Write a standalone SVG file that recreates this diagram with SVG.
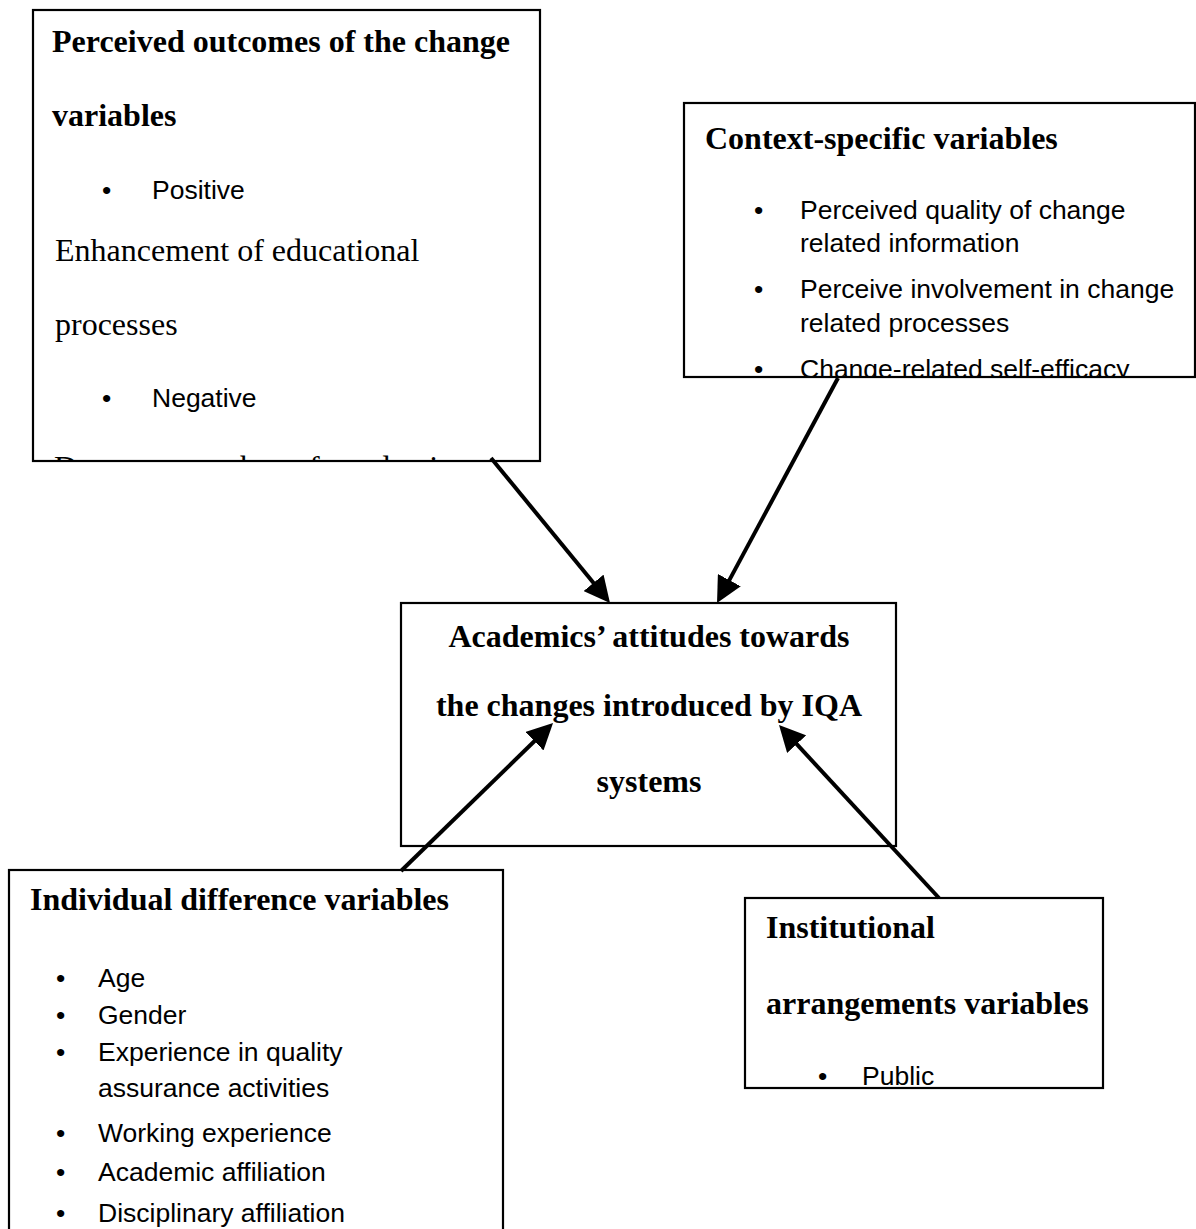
<svg xmlns="http://www.w3.org/2000/svg" width="1196" height="1229" viewBox="0 0 1196 1229">
<style>
.box{fill:#fff;stroke:#000;stroke-width:2.2}
.h{font-family:"Liberation Serif","Times New Roman",serif;font-weight:bold;font-size:32px;fill:#000}
.s{font-family:"Liberation Serif","Times New Roman",serif;font-size:32px;fill:#000}
.b{font-family:"Liberation Sans",Arial,sans-serif;font-size:26.5px;fill:#000}
.c{text-anchor:middle}
.arrow{stroke:#000;stroke-width:4;fill:none;marker-end:url(#ah)}
</style>
<defs>
<marker id="ah" markerUnits="userSpaceOnUse" markerWidth="26" markerHeight="26" refX="6" refY="13" orient="auto">
<path d="M0,0 L26,13 L0,26 z" fill="#000"/>
</marker>
<clipPath id="c1"><rect x="33" y="11" width="506" height="449"/></clipPath>
<clipPath id="c2"><rect x="685" y="104" width="510" height="272"/></clipPath>
<clipPath id="c5"><rect x="746" y="899" width="356" height="188"/></clipPath>
</defs>
<rect width="1196" height="1229" fill="#fff"/>

<g id="node-outcomes">
<rect class="box" x="33" y="10" width="507" height="451"/>
<g clip-path="url(#c1)">
<text class="h" x="52" y="52">Perceived outcomes of the change</text>
<text class="h" x="52" y="126">variables</text>
<text class="b" x="102" y="199">•</text>
<text class="b" x="152" y="199">Positive</text>
<text class="s" x="55" y="261">Enhancement of educational</text>
<text class="s" x="55" y="335">processes</text>
<text class="b" x="102" y="407">•</text>
<text class="b" x="152" y="407">Negative</text>
<text class="s" x="54" y="478" word-spacing="4">Decrease number of academic</text>
</g>
</g>

<g id="node-context">
<rect class="box" x="684" y="103" width="511" height="274"/>
<g clip-path="url(#c2)">
<text class="h" x="705" y="149">Context-specific variables</text>
<text class="b" x="754" y="219">•</text>
<text class="b" x="800" y="219">Perceived quality of change</text>
<text class="b" x="800" y="252">related information</text>
<text class="b" x="754" y="298">•</text>
<text class="b" x="800" y="298">Perceive involvement in change</text>
<text class="b" x="800" y="332">related processes</text>
<text class="b" x="754" y="378">•</text>
<text class="b" x="800" y="378">Change-related self-efficacy</text>
</g>
</g>

<g id="node-attitudes">
<rect class="box" x="401" y="603" width="495" height="243"/>
<text class="h c" x="649" y="647">Academics’ attitudes towards</text>
<text class="h c" x="649" y="716">the changes introduced by IQA</text>
<text class="h c" x="649" y="792">systems</text>
</g>

<g id="node-individual">
<rect class="box" x="9" y="870" width="494" height="400"/>
<text class="h" x="30" y="910">Individual difference variables</text>
<text class="b" x="56" y="987">•</text>
<text class="b" x="98" y="987">Age</text>
<text class="b" x="56" y="1024">•</text>
<text class="b" x="98" y="1024">Gender</text>
<text class="b" x="56" y="1061">•</text>
<text class="b" x="98" y="1061">Experience in quality</text>
<text class="b" x="98" y="1097">assurance activities</text>
<text class="b" x="56" y="1142">•</text>
<text class="b" x="98" y="1142">Working experience</text>
<text class="b" x="56" y="1181">•</text>
<text class="b" x="98" y="1181">Academic affiliation</text>
<text class="b" x="56" y="1222">•</text>
<text class="b" x="98" y="1222">Disciplinary affiliation</text>
</g>

<g id="node-institutional">
<rect class="box" x="745" y="898" width="358" height="190"/>
<g clip-path="url(#c5)">
<text class="h" x="766" y="938">Institutional</text>
<text class="h" x="766" y="1014">arrangements variables</text>
<text class="b" x="818" y="1085">•</text>
<text class="b" x="862" y="1085">Public</text>
</g>
</g>

<g id="connectors">
<line class="arrow" x1="491" y1="458" x2="597.3" y2="587.5"/>
<line class="arrow" x1="838" y1="378" x2="726.5" y2="585.4"/>
<line class="arrow" x1="401" y1="871" x2="538.7" y2="737"/>
<line class="arrow" x1="939" y1="898" x2="792.6" y2="739.7"/>
</g>
</svg>
